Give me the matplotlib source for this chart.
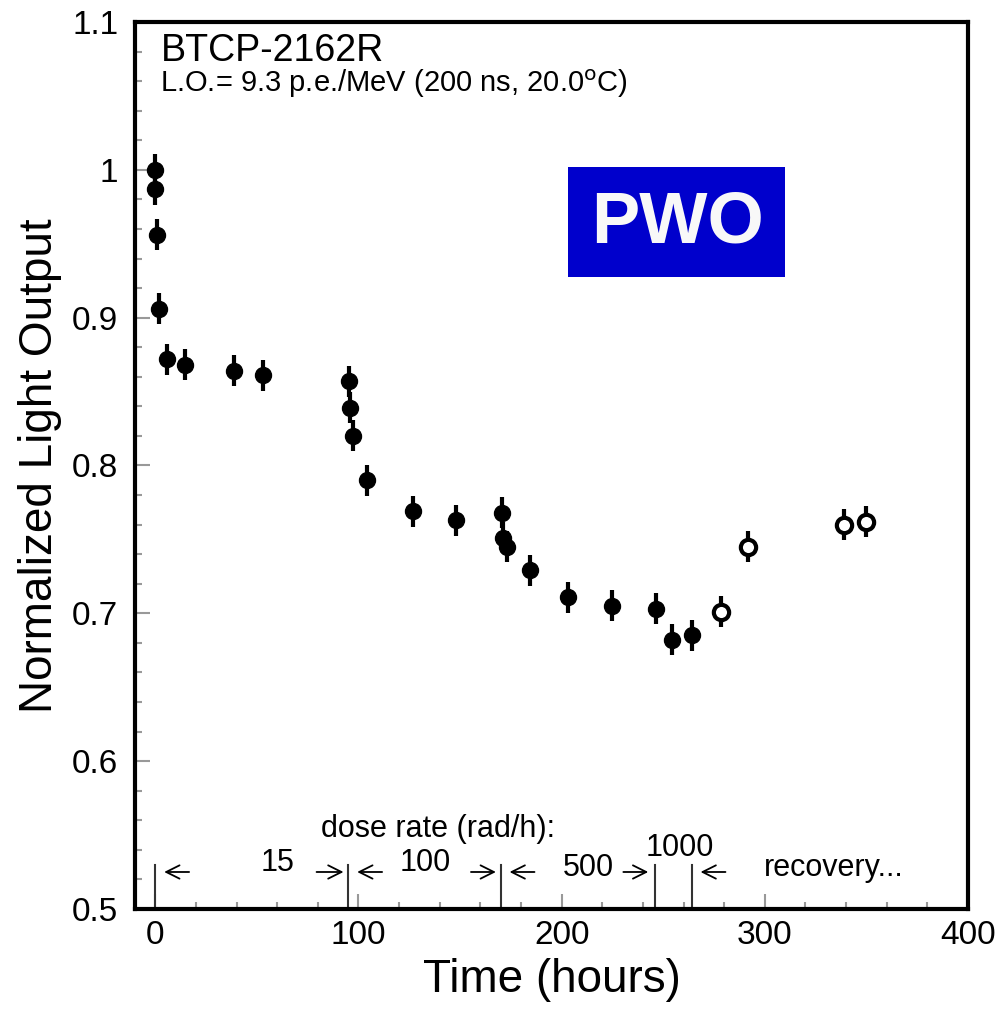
import matplotlib
matplotlib.use('Agg')
import matplotlib.pyplot as plt
from matplotlib.ticker import MultipleLocator, FuncFormatter
from matplotlib.patches import Rectangle

plt.rcParams['font.family'] = ['Liberation Sans', 'DejaVu Sans']

# irradiation (closed) points
t_irr = [0, 0, 0.8, 2, 5.7, 14.8, 38.9, 52.9, 95.2, 95.6, 97.4, 104.3, 126.8,
         147.9, 170.4, 171.1, 173.2, 184.2, 203.3, 224.8, 246.3, 254.5, 264.4]
lo_irr = [1.0, 0.987, 0.956, 0.906, 0.872, 0.868, 0.864, 0.861, 0.857, 0.839,
          0.820, 0.790, 0.769, 0.763, 0.768, 0.751, 0.745, 0.729, 0.711, 0.705,
          0.703, 0.682, 0.685]
err_irr = [0.0105] * len(t_irr)

# recovery (open) points
t_rec = [278.3, 291.8, 339.1, 349.8]
lo_rec = [0.701, 0.745, 0.760, 0.762]
err_rec = [0.0105] * len(t_rec)

# dose rate step boundaries (hours) and labels
steps = [0, 95, 170, 246, 264]
rate_labels = ['15', '100', '500', '1000', 'recovery...']
rate_x = [60, 133, 213, 258, 334]
rate_y = [0.531, 0.531, 0.528, 0.541, 0.528]
arrows = [(18, 3), (78, 94), (113, 98), (154, 169), (188, 173), (229, 244), (282, 267)]

fig = plt.figure(figsize=(9.97, 10.14), dpi=100)
ax = fig.add_axes([0.1354, 0.1036, 0.8355, 0.8747])

ax.errorbar(t_irr, lo_irr, yerr=err_irr, fmt='o', color='black', ms=11.5,
            elinewidth=3, capsize=0, zorder=3)
ax.errorbar(t_rec, lo_rec, yerr=err_rec, fmt='o', color='black', mfc='white',
            mec='black', mew=3, ms=11, elinewidth=3, capsize=0, zorder=3)

for s in steps:
    ax.plot([s, s], [0.5, 0.53], color='#333333', lw=1.5)
for (a, b) in arrows:
    ax.annotate('', xy=(b, 0.525), xytext=(a, 0.525),
                arrowprops=dict(arrowstyle='->', color='black', lw=1.3,
                                mutation_scale=24))
for lab, xx, yy in zip(rate_labels, rate_x, rate_y):
    ax.text(xx, yy, lab, ha='center', va='center', fontsize=22)
ax.text(139, 0.554, 'dose rate (rad/h):', ha='center', va='center', fontsize=22)

ax.text(2.5, 1.0735, 'BTCP-2162R', fontsize=27, va='baseline')
ax.text(2.5, 1.0525, r'L.O.= 9.3 p.e./MeV (200 ns, 20.0$^{\rm o}$C)',
        fontsize=21, va='baseline')

ax.add_patch(Rectangle((203, 0.9276), 107, 0.0744, facecolor='#0000cc',
                       edgecolor='none', zorder=2))
ax.text(257, 0.9635, 'PWO', color='#f8f8f8', fontsize=52, fontweight='bold',
        ha='center', va='center', zorder=3)

ax.set_xlim(-10, 400)
ax.set_ylim(0.5, 1.1)
ax.xaxis.set_major_locator(MultipleLocator(100))
ax.xaxis.set_minor_locator(MultipleLocator(20))
ax.yaxis.set_major_locator(MultipleLocator(0.1))
ax.yaxis.set_minor_locator(MultipleLocator(0.02))
ax.yaxis.set_major_formatter(FuncFormatter(lambda v, p: '%g' % round(v, 2)))

ax.tick_params(which='both', direction='in', top=False, right=False,
               color='#999999', width=1.5, labelsize=24)
ax.tick_params(which='major', length=11)
ax.tick_params(which='minor', length=5)
ax.tick_params(axis='y', pad=12)
ax.tick_params(axis='x', pad=8)
for sp in ax.spines.values():
    sp.set_linewidth(3)

ax.set_xlabel('Time (hours)', fontsize=33, va='center')
ax.set_ylabel('Normalized Light Output', fontsize=33, va='center')
ax.yaxis.set_label_coords(-0.114, 0.5)
ax.xaxis.set_label_coords(0.5, -0.08)

fig.savefig('out.png', dpi=100)
